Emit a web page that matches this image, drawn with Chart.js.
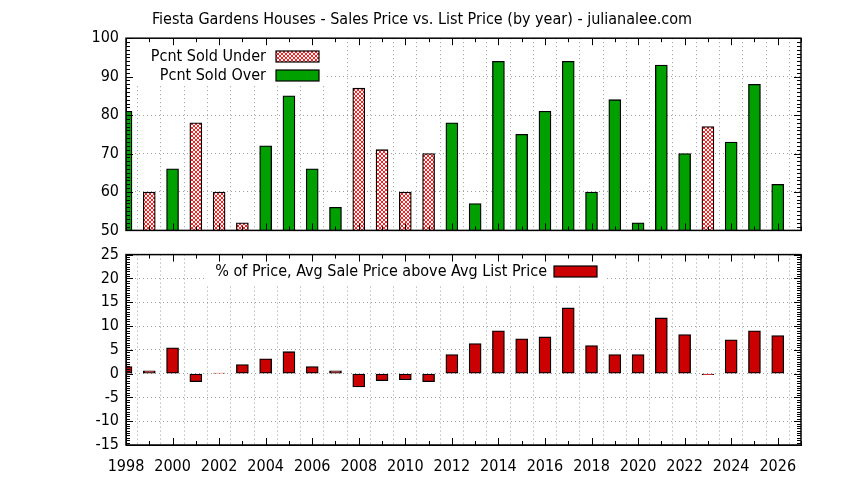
<!DOCTYPE html>
<html>
<head>
<meta charset="utf-8">
<script src="https://cdn.jsdelivr.net/npm/chart.js@4/dist/chart.umd.min.js"></script>
<style>
  html, body { margin: 0; padding: 0; background: #fff; }
  #wrap { position: relative; width: 844px; height: 480px; overflow: hidden; }
  canvas { position: absolute; left: 0; }
  #topChart { top: 0; }
  #bottomChart { top: 238px; }
</style>
</head>
<body>
<div id="wrap">
  <canvas id="topChart" width="844" height="247"></canvas>
  <canvas id="bottomChart" width="844" height="242"></canvas>
</div>
<script>
const years = [1998, 1999, 2000, 2001, 2002, 2003, 2004, 2005, 2006, 2007,
  2008, 2009, 2010, 2011, 2012, 2013, 2014, 2015, 2016, 2017,
  2018, 2019, 2020, 2021, 2022, 2023, 2024, 2025, 2026];
// only the bars that show above the 50% floor are known
const pcntSoldUnder = [null, 60, null, 78, 60, 52, null, null, null, null,
  87, 71, 60, 70, null, null, null, null, null, null,
  null, null, null, null, null, 77, null, null, null];
const pcntSoldOver = [81, null, 66, null, null, null, 72, 85, 66, 56,
  null, null, null, null, 78, 57, 94, 75, 81, 94,
  60, 84, 52, 93, 70, null, 73, 88, 62];
const pctAboveList = [1.5, 0.6, 5.4, -1.7, 0.1, 1.9, 3.1, 4.6, 1.5, 0.6,
  -2.8, -1.5, -1.3, -1.7, 4.0, 6.3, 9.0, 7.3, 7.7, 13.8,
  5.9, 4.0, 4.0, 11.7, 8.2, -0.2, 7.1, 9.0, 8.0];

const FONT = "'Liberation Sans Narrow', 'DejaVu Sans Condensed', 'Liberation Sans', sans-serif";
const GRID = '#a0a0a0';
const GREEN = '#00a000';
const RED = '#cc0000';

Chart.defaults.font.family = FONT;
Chart.defaults.font.size = 16;
Chart.defaults.color = '#000';

function makeHatch() {
  const c = document.createElement('canvas');
  c.width = 4; c.height = 4;
  const g = c.getContext('2d');
  g.fillStyle = '#fff';
  g.fillRect(0, 0, 4, 4);
  g.fillStyle = '#ff2020';
  for (let i = 0; i < 4; i++) {
    g.fillRect(i, i, 1, 1);
    g.fillRect(i, 3 - i, 1, 1);
  }
  return g.createPattern(c, 'repeat');
}
const hatch = makeHatch();

const toPoints = arr => years.map((x, i) => ({ x, y: arr[i] }));

// inward ticks on all four sides + solid frame, gnuplot style
const frameTicks = {
  id: 'frameTicks',
  afterDatasetsDraw(chart, args, opts) {
    const { ctx, chartArea: a, scales } = chart;
    const x = scales.x, y = scales.y;
    ctx.save();
    ctx.strokeStyle = '#000';
    ctx.lineWidth = 1;
    ctx.beginPath();
    for (let v = x.min; v <= x.max; v++) {
      const px = Math.round(x.getPixelForValue(v)) + 0.5;
      const len = v % 2 === 0 ? 7 : 4;
      ctx.moveTo(px, a.bottom); ctx.lineTo(px, a.bottom - len);
      ctx.moveTo(px, a.top); ctx.lineTo(px, a.top + len);
    }
    const n = Math.round((y.max - y.min) / opts.minor);
    for (let k = 0; k <= n; k++) {
      const v = y.min + k * opts.minor;
      const py = Math.round(y.getPixelForValue(v)) + 0.5;
      const r = v / opts.major;
      const len = Math.abs(r - Math.round(r)) < 1e-6 ? 7 : 4;
      ctx.moveTo(a.left, py); ctx.lineTo(a.left + len, py);
      ctx.moveTo(a.right, py); ctx.lineTo(a.right - len, py);
    }
    ctx.stroke();
    ctx.lineWidth = 1.5;
    ctx.strokeRect(a.left, a.top, a.right - a.left, a.bottom - a.top);
    ctx.restore();
  }
};

// opaque key with the text left of the sample box
const keyBox = {
  id: 'keyBox',
  beforeDatasetsDraw(chart, args, opts) {
    const ctx = chart.ctx;
    ctx.save();
    ctx.fillStyle = '#fff';
    ctx.fillRect(opts.area[0], opts.area[1], opts.area[2], opts.area[3]);
    ctx.font = '16px ' + FONT;
    ctx.textAlign = 'right';
    ctx.textBaseline = 'middle';
    chart.data.datasets.forEach((ds, i) => {
      const yy = opts.rows[i];
      ctx.fillStyle = '#000';
      ctx.fillText(ds.label, opts.textRight, yy);
      ctx.fillStyle = ds.backgroundColor;
      ctx.fillRect(opts.boxLeft, yy - 5.5, 43, 11);
      ctx.strokeStyle = '#000';
      ctx.lineWidth = 1.2;
      ctx.strokeRect(opts.boxLeft, yy - 5.5, 43, 11);
    });
    ctx.restore();
  }
};

const xScale = (showLabels, height) => ({
  type: 'linear',
  min: 1998,
  max: 2027,
  offset: false,
  grid: { color: GRID, drawTicks: false },
  border: { color: '#000', dash: [1, 3] },
  ticks: {
    display: showLabels,
    stepSize: 1,
    autoSkip: false,
    maxRotation: 0,
    padding: 12,
    callback: v => (v % 2 === 0 ? String(v) : '')
  },
  afterFit: s => { s.height = height; }
});

const rightSpacer = {
  position: 'right',
  min: 0,
  max: 1,
  grid: { display: false },
  border: { display: false },
  ticks: { display: false },
  afterFit: s => { s.width = 43; }
};

const barDefaults = {
  barThickness: 12,
  borderColor: '#000',
  borderWidth: 1.3,
  borderSkipped: false,
  grouped: false,
  clip: 0
};

new Chart(document.getElementById('topChart'), {
  type: 'bar',
  data: {
    datasets: [
      Object.assign({ label: 'Pcnt Sold Under', data: toPoints(pcntSoldUnder), backgroundColor: hatch }, barDefaults),
      Object.assign({ label: 'Pcnt Sold Over', data: toPoints(pcntSoldOver), backgroundColor: GREEN }, barDefaults)
    ]
  },
  options: {
    responsive: false,
    animation: false,
    layout: { padding: { top: 0, left: 0, right: 0, bottom: 0 } },
    plugins: {
      legend: { display: false },
      tooltip: { enabled: false },
      title: {
        display: true,
        text: 'Fiesta Gardens Houses - Sales Price vs. List Price (by year) - julianalee.com',
        font: { size: 16, weight: 'normal' },
        color: '#000',
        padding: { top: 10, bottom: 9 }
      },
      frameTicks: { minor: 1, major: 10 },
      keyBox: { area: [126, 38, 200, 48], textRight: 266, boxLeft: 276, rows: [56.5, 75.5] }
    },
    scales: {
      x: xScale(false, 10),
      y: {
        min: 50,
        max: 100,
        grid: { color: GRID, drawTicks: false },
        border: { color: '#000', dash: [1, 3] },
        ticks: { stepSize: 10, padding: 7 },
        afterFit: s => { s.width = 126; }
      },
      y1: rightSpacer
    }
  },
  plugins: [keyBox, frameTicks]
});

new Chart(document.getElementById('bottomChart'), {
  type: 'bar',
  data: {
    datasets: [
      Object.assign({ label: '% of Price, Avg Sale Price above Avg List Price', data: toPoints(pctAboveList), backgroundColor: RED }, barDefaults)
    ]
  },
  options: {
    responsive: false,
    animation: false,
    layout: { padding: { top: 14, left: 0, right: 0, bottom: 0 } },
    plugins: {
      legend: { display: false },
      tooltip: { enabled: false },
      frameTicks: { minor: 0.5, major: 5 },
      keyBox: { area: [206, 16, 400, 32], textRight: 547, boxLeft: 554, rows: [33.5] }
    },
    scales: {
      x: xScale(true, 35),
      y: {
        min: -15,
        max: 25,
        grid: { color: GRID, drawTicks: false },
        border: { color: '#000', dash: [1, 3] },
        ticks: { stepSize: 5, padding: 7 },
        afterFit: s => { s.width = 126; }
      },
      y1: rightSpacer
    }
  },
  plugins: [keyBox, frameTicks]
});
</script>
</body>
</html>
